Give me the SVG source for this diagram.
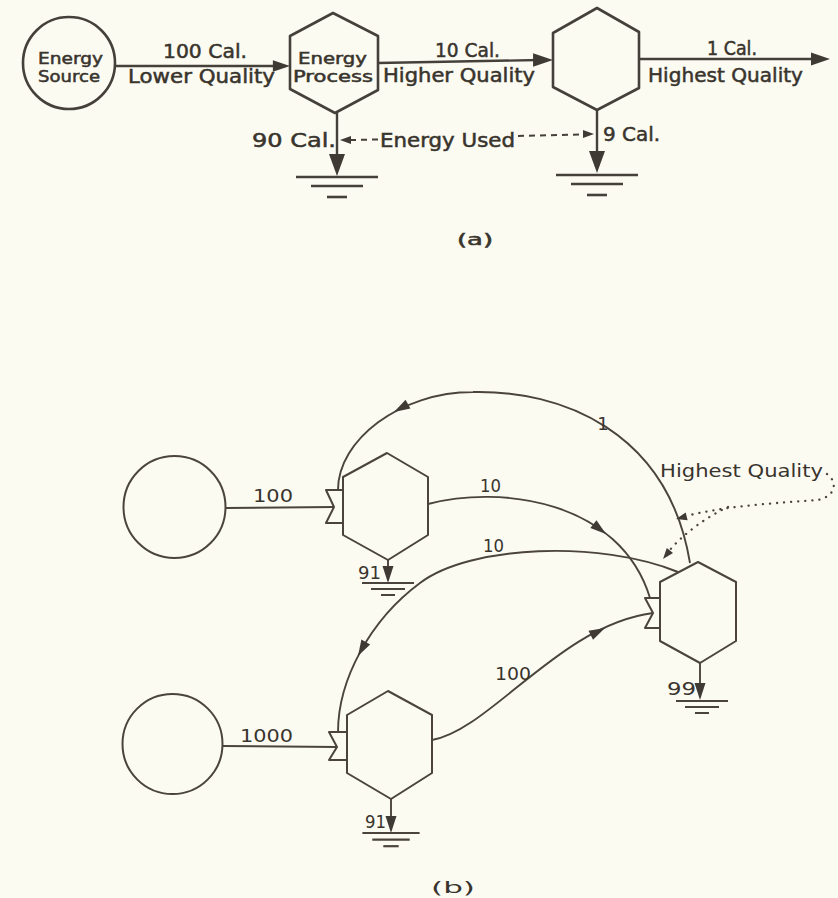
<svg xmlns="http://www.w3.org/2000/svg" width="838" height="898" viewBox="0 0 838 898">
<style>
.bg{fill:#fbfbf2}
.s{fill:none;stroke:#454039;stroke-width:2.6;stroke-linejoin:round}
.s2{fill:none;stroke:#4a443c;stroke-width:2;stroke-linejoin:round}
.ln{fill:none;stroke:#454039;stroke-width:2.4}
.ln2{fill:none;stroke:#4a443c;stroke-width:1.9}
.dash{fill:none;stroke:#454039;stroke-width:2;stroke-dasharray:6 5}
.dot{fill:none;stroke:#4a443c;stroke-width:2.3;stroke-dasharray:0.1 7;stroke-linecap:round}
.ah{fill:#3f3a33}
.g1{stroke:#454039;stroke-width:2.6}
.g2{stroke:#4a443c;stroke-width:2}
text{font-family:"DejaVu Sans","Liberation Sans",sans-serif;fill:#39342d}
.ta{stroke:#39342d;stroke-width:0.5}
.f15{font-size:15px}
.f16{font-size:16px}
.f17{font-size:17px}
.f18{font-size:18px}
.f19{font-size:19px}
</style>
<defs>
<path id="ahA" d="M0,0 L-19,-6.5 L-19,6.5 Z"/>
<path id="ahD" d="M0,0 L-22,-8 L-22,8 Z"/>
<path id="ahB" d="M0,0 L-16,-5 L-16,5 Z"/>
<path id="ahDs" d="M0,0 L-17,-5.5 L-17,5.5 Z"/>
<path id="ahS" d="M0,0 L-11,-4 L-11,4 Z"/>
<g id="gndA" class="g1"><line x1="-41" y1="0" x2="41" y2="0"/><line x1="-26" y1="9" x2="26" y2="9"/><line x1="-10" y1="20" x2="10" y2="20"/></g>
<g id="gndB" class="g2"><line x1="-26" y1="0" x2="26" y2="0"/><line x1="-17" y1="6" x2="17" y2="6"/><line x1="-7" y1="12" x2="7" y2="12"/></g>
</defs>
<rect class="bg" x="0" y="0" width="838" height="898"/>

<!-- Part (a) nodes -->
<g id="a-source">
<circle class="s" cx="69" cy="63" r="46"/>
<text class="f15 ta" x="38" y="64" textLength="65" lengthAdjust="spacingAndGlyphs">Energy</text>
<text class="f15 ta" x="38" y="82" textLength="62" lengthAdjust="spacingAndGlyphs">Source</text>
</g>
<g id="a-process">
<polygon class="s" points="333,13 378,36 378,90 335,113 290,89 290,36"/>
<text class="f15 ta" x="298" y="64" textLength="69" lengthAdjust="spacingAndGlyphs">Energy</text>
<text class="f15 ta" x="293" y="82" textLength="80" lengthAdjust="spacingAndGlyphs">Process</text>
</g>
<g id="a-process2">
<polygon class="s" points="597,8 639,32 639,88 597,110 553,87 553,33"/>
</g>
<g id="a-sink1"><use href="#gndA" transform="translate(337,177)"/></g>
<g id="a-sink2"><use href="#gndA" transform="translate(597,175)"/></g>

<!-- Part (a) connectors -->
<g id="a-connectors">
<line class="ln" x1="115" y1="66" x2="280" y2="66"/>
<use class="ah" href="#ahA" transform="translate(290,66) scale(0.9)"/>
<line class="ln" x1="378" y1="63" x2="540" y2="60"/>
<use class="ah" href="#ahA" transform="translate(553,60) scale(1.05)"/>
<line class="ln" x1="639" y1="59" x2="815" y2="59"/>
<use class="ah" href="#ahA" transform="translate(830,59)"/>
<line class="ln" x1="337" y1="113" x2="337" y2="160"/>
<use class="ah" href="#ahD" transform="translate(337,176) rotate(90)"/>
<line class="ln" x1="597" y1="110" x2="597" y2="158"/>
<use class="ah" href="#ahD" transform="translate(597,173) rotate(90)"/>
<line class="dash" x1="350" y1="140" x2="378" y2="139.5"/>
<use class="ah" href="#ahS" transform="translate(340,140) rotate(180)"/>
<line class="dash" x1="518" y1="136" x2="584" y2="134.5"/>
<use class="ah" href="#ahS" transform="translate(594,134)"/>
</g>

<!-- Part (a) labels -->
<g id="a-labels">
<text class="f19 ta" x="163" y="58" textLength="84" lengthAdjust="spacingAndGlyphs">100 Cal.</text>
<text class="f19 ta" x="128" y="83" textLength="147" lengthAdjust="spacingAndGlyphs">Lower Quality</text>
<text class="f19 ta" x="435" y="57" textLength="65" lengthAdjust="spacingAndGlyphs">10 Cal.</text>
<text class="f19 ta" x="383" y="82" textLength="152" lengthAdjust="spacingAndGlyphs">Higher Quality</text>
<text class="f19 ta" x="707" y="55" textLength="50" lengthAdjust="spacingAndGlyphs">1 Cal.</text>
<text class="f19 ta" x="648" y="82" textLength="155" lengthAdjust="spacingAndGlyphs">Highest Quality</text>
<text class="f19 ta" x="252" y="147" textLength="84" lengthAdjust="spacingAndGlyphs">90 Cal.</text>
<text class="f19 ta" x="380" y="147" textLength="135" lengthAdjust="spacingAndGlyphs">Energy Used</text>
<text class="f19 ta" x="603" y="141" textLength="57" lengthAdjust="spacingAndGlyphs">9 Cal.</text>
<text class="f15 ta" x="457" y="245" textLength="36" lengthAdjust="spacingAndGlyphs">(a)</text>
</g>

<!-- Part (b) nodes -->
<g id="b-source1"><circle class="s2" cx="174.5" cy="507" r="51"/></g>
<g id="b-source2"><circle class="s2" cx="172.5" cy="744" r="50"/></g>
<g id="b-process1">
<polygon class="s2" points="387,453 428,477 428,535 388,560 343,535 343,477"/>
<path class="s2" d="M343,490 L326,490 L334,507 L326,523 L343,523"/>
</g>
<g id="b-process2">
<polygon class="s2" points="388,691 432,715 432,773 391,799 347,773 347,715"/>
<path class="s2" d="M347,732 L329,732 L337,747 L329,760 L347,760"/>
</g>
<g id="b-process3">
<polygon class="s2" points="698,562 736,582 736,641 700,663 660,641 660,582"/>
<path class="s2" d="M660,598 L645,598 L653,613 L645,628 L660,628"/>
</g>
<g id="b-sink1"><use href="#gndB" transform="translate(388,583)"/></g>
<g id="b-sink2"><use href="#gndB" transform="translate(391,833) scale(1.1)"/></g>
<g id="b-sink3"><use href="#gndB" transform="translate(702,701)"/></g>

<!-- Part (b) connectors -->
<g id="b-connectors">
<line class="ln2" x1="226" y1="508" x2="334" y2="507"/>
<line class="ln2" x1="223" y1="746" x2="337" y2="747"/>
<path class="ln2" d="M690,563 C668,430 560,390 473,392 C400,392 338,440 338,490"/>
<use class="ah" href="#ahB" transform="translate(394,412) rotate(151)"/>
<path class="ln2" d="M428,504 C500,485 620,500 650,598"/>
<use class="ah" href="#ahB" transform="translate(606,534) rotate(38)"/>
<path class="ln2" d="M678,572 C600,540 470,545 420,583 C370,620 338,680 338,732"/>
<use class="ah" href="#ahB" transform="translate(358,656) rotate(119)"/>
<path class="ln2" d="M432,740 C490,730 560,625 653,613"/>
<use class="ah" href="#ahB" transform="translate(605,628) rotate(-27)"/>
<line class="ln2" x1="388" y1="560" x2="388" y2="570"/>
<use class="ah" href="#ahDs" transform="translate(388,583) rotate(90)"/>
<line class="ln2" x1="391" y1="799" x2="391" y2="820"/>
<use class="ah" href="#ahDs" transform="translate(391,833) rotate(90)"/>
<line class="ln2" x1="700" y1="663" x2="700" y2="688"/>
<use class="ah" href="#ahDs" transform="translate(700,700) rotate(90)"/>
<path class="dot" d="M827,474 C838,482 836,496 818,500 C780,503 730,505 686,516"/>
<use class="ah" href="#ahS" transform="translate(676,519) rotate(166)"/>
<path class="dot" d="M728,507 C706,517 682,535 669,551"/>
<use class="ah" href="#ahS" transform="translate(663,559) rotate(129)"/>
</g>

<!-- Part (b) labels -->
<g id="b-labels">
<text class="f18" x="253" y="502" textLength="40" lengthAdjust="spacingAndGlyphs">100</text>
<text class="f17" x="480" y="492" textLength="21" lengthAdjust="spacingAndGlyphs">10</text>
<text class="f18" x="603" y="430" text-anchor="middle">1</text>
<text class="f17" x="660" y="477" textLength="163" lengthAdjust="spacingAndGlyphs">Highest Quality</text>
<text class="f17" x="483" y="552" textLength="21" lengthAdjust="spacingAndGlyphs">10</text>
<text class="f18" x="358" y="579" textLength="23" lengthAdjust="spacingAndGlyphs">91</text>
<text class="f18" x="240" y="742" textLength="53" lengthAdjust="spacingAndGlyphs">1000</text>
<text class="f18" x="495" y="680" textLength="36" lengthAdjust="spacingAndGlyphs">100</text>
<text class="f18" x="667" y="695" textLength="29" lengthAdjust="spacingAndGlyphs">99</text>
<text class="f18" x="365" y="828" textLength="21" lengthAdjust="spacingAndGlyphs">91</text>
<text class="f16" x="431" y="893" textLength="44" lengthAdjust="spacingAndGlyphs">(b)</text>
</g>
</svg>
